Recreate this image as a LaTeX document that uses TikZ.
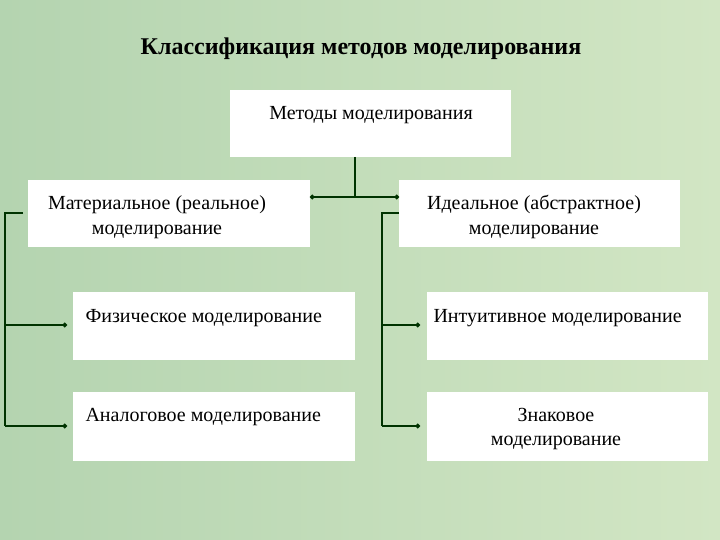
\documentclass[tikz,border=0pt]{standalone}
\usepackage{fontspec}
\setmainfont{Liberation Serif}
\usetikzlibrary{arrows.meta}
\definecolor{bgA}{HTML}{B4D4B0}
\definecolor{bgB}{HTML}{D2E6C4}
\begin{document}
\begin{tikzpicture}[x=1pt,y=-1pt,
 txt/.style={font=\fontsize{20}{24.5}\selectfont,align=center},
 ln/.style={draw=black!80!green,line width=1.4pt},
 tip/.style={-{Circle[length=4.5pt]}}]
\shade[left color=bgA, right color=bgB] (0,0) rectangle (720,540);
\useasboundingbox (0,0) rectangle (720,540);
\node[font=\bfseries\fontsize{24}{28}\selectfont] (title) at (361,49) {Классификация методов моделирования};
\fill[white] (230,90) rectangle (511,157);
\node[txt] (topt) at (371,115) {Методы моделирования};
\fill[white] (28,180) rectangle (310,247);
\node[txt] (mat) at (157,217) {Материальное (реальное)\\моделирование};
\fill[white] (399,180) rectangle (680,247);
\node[txt] (ide) at (534,217) {Идеальное (абстрактное)\\моделирование};
\fill[white] (73,292) rectangle (355,360);
\node[txt,anchor=west] (fiz) at (82,318) {Физическое моделирование};
\fill[white] (73,392) rectangle (355,461);
\node[txt,anchor=west] (ana) at (82,417) {Аналоговое моделирование};
\fill[white] (427,292) rectangle (708,360);
\node[txt,anchor=west] (int) at (430,318) {Интуитивное моделирование};
\fill[white] (427,392) rectangle (708,461);
\node[txt] (zna) at (556,429) {Знаковое\\моделирование};
\coordinate (a0) at (355,157);
\coordinate (a1) at (355,197);
\draw[ln] (a0) -- (a1);
\draw[ln,tip] (a1) -- (310,197);
\draw[ln,tip] (a1) -- (399,197);
\draw[ln] (23,213) -- (5,213) -- (5,426);
\draw[ln,tip] (5,325) -- (67,325);
\draw[ln,tip] (5,426) -- (67,426);
\draw[ln] (399,213) -- (382,213) -- (382,426);
\draw[ln,tip] (382,325) -- (420,325);
\draw[ln,tip] (382,426) -- (420,426);
\end{tikzpicture}
\end{document}
